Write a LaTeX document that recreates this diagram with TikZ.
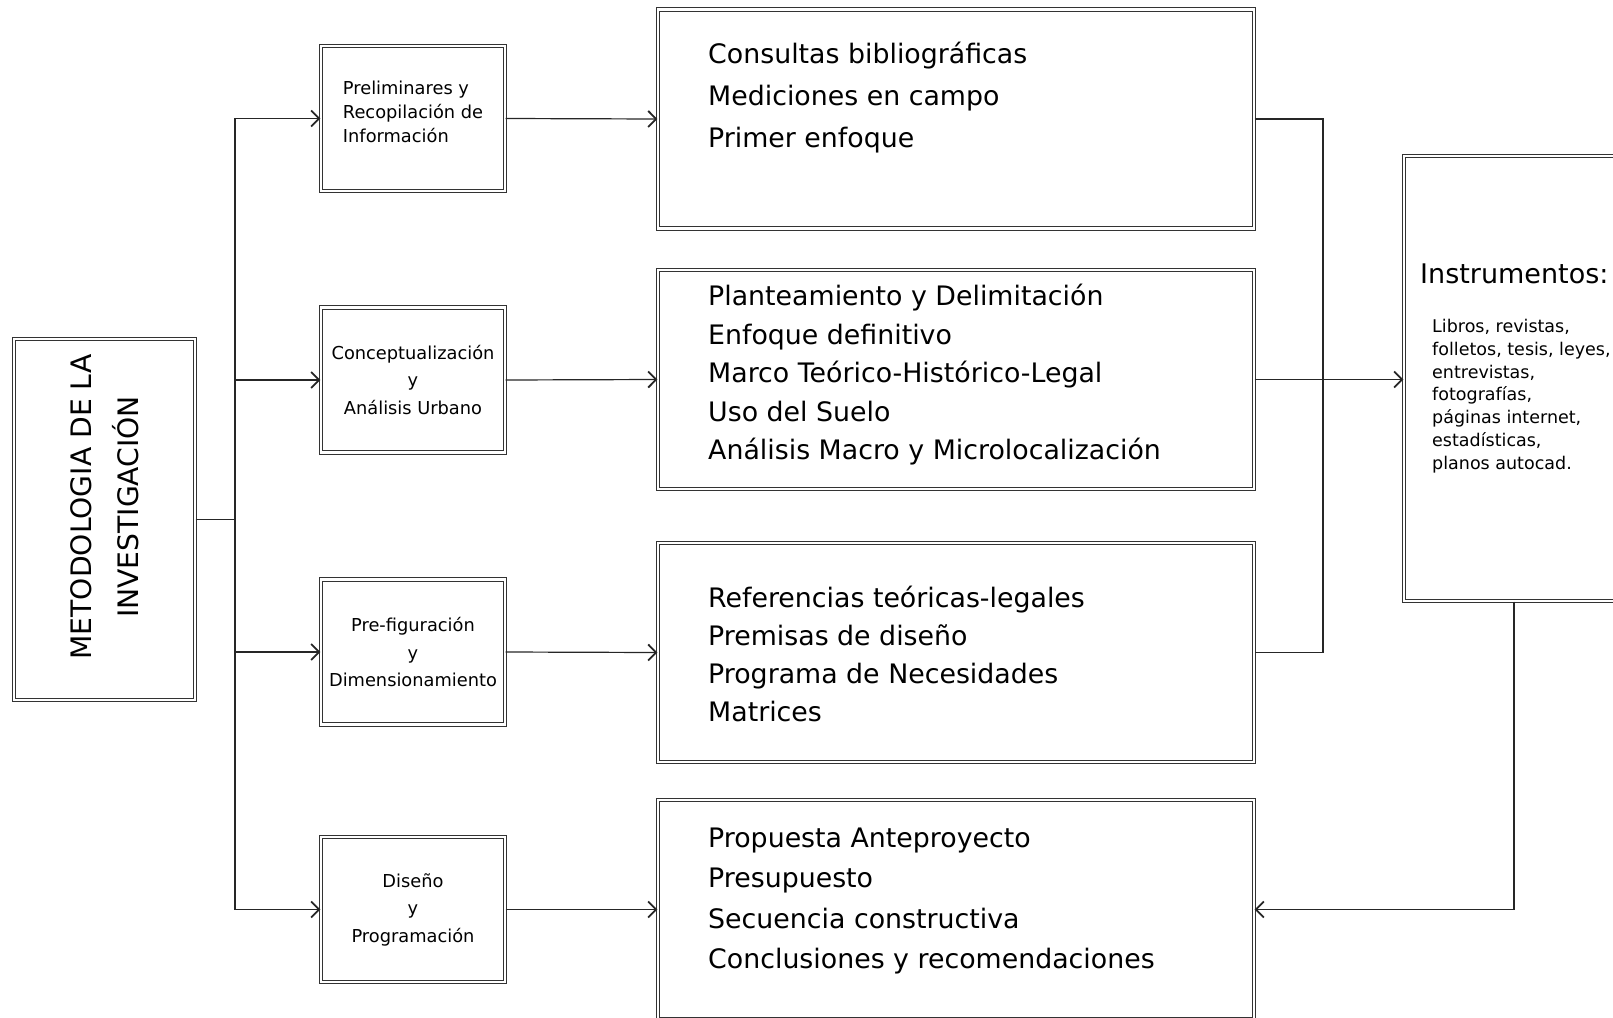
\documentclass[tikz,border=0pt]{standalone}
\usepackage{fontspec}
\setmainfont{DejaVu Sans}
\usetikzlibrary{arrows.meta,positioning}
\tikzset{
	>={Straight Barb[length=8pt,width=16pt,line width=1.8pt]},
	frame/.style={draw=black!80,double=white,double distance=2.4pt,line width=1.1pt,rectangle,inner sep=0pt},
	stage/.style={frame,minimum width=184pt,minimum height=145pt,align=center,font=\fontsize{17.8}{27.5}\selectfont},
	detail/.style={frame,minimum width=596pt,minimum height=219pt},
	bigtxt/.style={align=left,anchor=west,inner sep=0pt},
	link/.style={draw=black!85,line width=1.2pt}
}

\begin{document}
\begin{tikzpicture}[x=1pt,y=1pt]
			\useasboundingbox (0,0) rectangle (1613,-1017);
			\clip (0,0) rectangle (1613,-1017);
			% left column
			\node[frame,minimum width=181pt,minimum height=361pt] (metodo) at (104.5,-519.5) {};
			\node[rotate=90,align=center,font=\fontsize{28.2}{47}\selectfont] (metodotxt) at (105,-507) {METODOLOGIA DE LA\\INVESTIGACIÓN};
			% stages
			\node[stage,align=left,font=\fontsize{17.8}{24}\selectfont,text depth=14pt] (s1) at (413,-118.5) {Preliminares y\\Recopilación de\\Información};
			\node[stage] (s2) at (413,-380) {Conceptualización\\y\\Análisis Urbano};
			\node[stage] (s3) at (413,-652) {Pre-figuración\\y\\Dimensionamiento};
			\node[stage] (s4) at (413,-909.5) {Diseño\\y\\Programación};
			% details
			\node[detail] (b1) at (956,-119) {};
			\node[detail] (b2) at (956,-379.5) {};
			\node[detail] (b3) at (956,-652.5) {};
			\node[detail] (b4) at (956,-909.5) {};
			\node[bigtxt,font=\fontsize{26.8}{42}\selectfont] (b1txt) at (708,-98) {Consultas bibliográficas\\Mediciones en campo\\Primer enfoque};
			\node[bigtxt,font=\fontsize{26.8}{38.5}\selectfont] (b2txt) at (708,-375) {Planteamiento y Delimitación\\Enfoque definitivo\\Marco Teórico-Histórico-Legal\\Uso del Suelo\\Análisis Macro y Microlocalización};
			\node[bigtxt,font=\fontsize{26.8}{38}\selectfont] (b3txt) at (708,-654) {Referencias teóricas-legales\\Premisas de diseño\\Programa de Necesidades\\Matrices};
			\node[bigtxt,font=\fontsize{26.8}{40.5}\selectfont] (b4txt) at (708,-901) {Propuesta Anteproyecto\\Presupuesto\\Secuencia constructiva\\Conclusiones y recomendaciones};
			% instruments
			\node[frame,minimum width=300pt,minimum height=445pt] (instr) at (1554,-378.5) {};
			\node[anchor=base west,inner sep=0pt,font=\fontsize{27}{27}\selectfont] (instrhead) at (1420,-283) {Instrumentos:};
			\node[anchor=north west,align=left,inner sep=0pt,font=\fontsize{17.5}{22.8}\selectfont] (instrlist) at (1432,-319) {Libros, revistas,\\folletos, tesis, leyes,\\entrevistas,\\fotografías,\\páginas internet,\\estadísticas,\\planos autocad.};
			% connectors
			\coordinate (trunk) at (235,-519.5);
			\coordinate (merge) at (1323,-379.5);
			\draw[link] (metodo.east) -- (trunk);
			\foreach \i in {1,2,3,4} {
				\draw[link,->] (trunk) |- (s\i.west);
				\draw[link,->] (s\i.east) -- (b\i.west);
			}
			\draw[link] (b1.east) -| (merge) |- (b3.east);
			\draw[link,->] (b2.east) -- (b2.east -| instr.west);
			\draw[link,->] ([xshift=-40pt]instr.south) |- (b4.east);
		\end{tikzpicture}
\end{document}
